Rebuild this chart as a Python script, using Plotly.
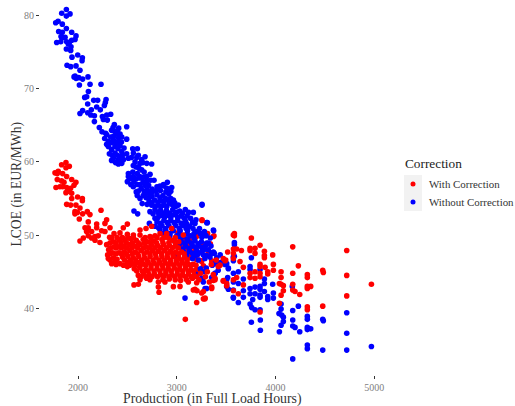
import plotly.graph_objects as go

series_names = ["With Correction", "Without Correction"]
x_ticks = [2000, 3000, 4000, 5000]
y_ticks = [40, 50, 60, 70, 80]

blue_points = [
(1882,80.8),(1835,80.3),(1919,80.2),(1882,79.9),(1774,79.0),(1798,79.2),(1841,78.8),(1882,78.2),(1804,77.8),(1936,77.7),
(1841,77.7),(1980,77.2),(1828,77.1),(1869,77.0),(1838,76.9),(1970,76.7),(1936,76.6),(1784,76.3),(1825,76.4),(1885,76.4),
(1912,76.3),(1902,76.1),(1929,75.7),(1882,75.4),(1926,75.2),(1997,74.6),(1939,74.3),(2044,74.2),(2041,73.8),(1889,73.2),
(1926,73.0),(1980,73.1),(2020,72.5),(1970,71.7),(1980,71.4),(1960,71.6),(2101,71.6),(2007,71.5),(2047,71.3),(2233,70.6),
(2122,70.6),(2014,70.5),(2105,69.6),(2088,68.9),(2068,68.8),(2159,68.4),(2199,68.4),(2284,68.5),(2277,68.1),(2098,67.9),
(2267,67.7),(2189,67.5),(2226,67.1),(2047,67.0),(2020,66.6),(2135,67.1),(2098,66.7),(2129,66.4),(2166,66.3),(2331,66.5),
(2291,66.4),(2247,66.2),(2257,65.8),(2297,65.7),(2166,65.5),(2216,64.7),(2368,65.1),(2493,64.8),(2355,64.7),(2412,64.6),
(2243,64.1),(2375,64.1),(2392,63.9),(2426,63.8),(2291,63.7),(2331,63.4),(2443,63.4),(2493,63.1),(2307,62.8),(2358,63.0),
(2409,62.8),(2307,62.1),(2375,62.1),(2426,62.2),(2466,61.9),(2554,61.8),(2601,61.8),(2340,61.7),(2318,61.1),(2375,61.2),
(2443,61.4),(2493,61.1),(2561,61.2),(2611,60.9),(2679,60.7),(2358,60.5),(2409,60.3),(2460,60.3),(2510,60.5),(2645,60.3),
(2340,60.2),(2409,59.7),(2443,59.8),(2578,60.0),(2628,59.8),(2696,59.8),(2746,59.7),(2588,59.3),(2510,58.4),(2645,58.9),
(2601,58.4),(2730,58.3),(2510,58.0),(2696,58.0),(2500,57.3),(2567,57.3),(2628,57.8),(2770,57.5),(2600,56.9),(2660,57.3),
(2715,56.8),(2800,56.6),(2865,56.9),(2905,57.2),(2949,56.5),(2900,56.4),(2560,56.6),(2640,56.4),(2590,55.9),(2700,56.2),
(2760,56.0),(2835,56.1),(2628,55.0),(2696,55.7),(2660,55.4),(2750,55.3),(2800,55.5),(2860,55.4),(2920,55.6),(2966,54.8),
(2720,54.7),(2775,54.8),(2840,54.7),(2900,54.9),(3016,54.1),(3256,54.1),(2650,54.3),(2745,54.1),(2810,54.1),(2870,54.1),
(2950,54.2),(3087,53.5),(3168,53.1),(2567,53.3),(2604,52.9),(2729,53.2),(2780,53.5),(2835,53.4),(2895,53.4),(2960,53.5),
(3030,53.3),(2780,52.3),(2840,52.7),(2905,52.7),(2975,52.8),(3045,52.6),(3105,52.6),(2723,51.6),(2800,51.8),(2870,52.0),
(2940,52.0),(3010,52.0),(3090,51.9),(3195,52.1),(3185,51.6),(3304,51.7),(2780,51.2),(2850,51.3),(2920,51.3),(2990,51.3),
(3060,51.3),(3130,51.2),(3101,51.5),(2831,50.7),(2890,50.6),(2932,50.2),(2965,50.6),(3035,50.6),(3110,50.6),(3202,50.5),
(3240,50.2),(3371,50.7),(3297,49.9),(3000,49.9),(3065,49.8),(3140,49.9),(2975,49.2),(3045,49.1),(3115,49.2),(3185,49.2),
(3250,49.1),(3320,48.9),(3347,48.5),(3253,48.3),(3160,48.5),(3090,48.5),(3020,48.4),(3200,47.9),(3371,47.7),(3320,48.0),
(3270,47.3),(3337,47.0),(3130,47.8),(3070,47.7),(3000,47.1),(3190,47.2),
(3256,54.2),(3310,51.7),(3374,50.6),(3263,50.2),(3287,50.0),(3584,49.0),(3584,48.7),(3756,46.9),(3584,47.1),(3574,46.5),
(3422,46.2),(3489,46.0),(3523,45.4),(3743,45.7),(3743,45.3),(3844,45.3),(3574,44.8),(3624,45.0),(3516,44.2),(3675,44.0),
(3888,44.0),(3888,43.4),(3388,44.8),(3354,44.2),(3263,44.1),(3574,43.6),(3624,43.4),(3506,43.0),(3523,42.6),(3287,42.7),
(3972,43.3),(4171,43.0),(3743,42.7),(3793,42.9),(3844,43.0),(3844,42.6),(3675,42.4),(3743,42.0),(3793,42.0),(3888,42.3),
(3979,42.1),(3844,41.8),(3922,41.6),(3922,41.2),(3979,41.4),(3574,41.4),(3675,41.5),(3844,41.5),(3770,41.2),(3624,40.8),
(3743,40.6),(4057,40.6),(4232,40.3),(3759,40.1),(3793,39.8),(3844,39.8),(4057,39.9),(4175,39.7),(4722,39.4),(4036,39.3),
(4063,39.1),(4080,38.8),(4323,38.9),(4323,38.5),(4479,38.5),(4485,38.3),(4175,38.4),(4080,38.2),(3847,38.4),(3756,38.1),
(4057,37.7),(4175,37.6),(4198,37.4),(4323,37.4),(4357,37.2),(4323,37.1),(3847,37.0),(4040,36.8),(4246,36.8),(4722,36.6),
(4323,35.0),(4323,34.5),(4479,34.3),(4722,34.3),(4972,34.8),(4175,33.1),(3084,41.4),
(3215,47.4),(3160,46.8),(3405,46.9),(3440,47.3),(3450,46.3),(3300,45.5),(3360,45.9),(3240,45.4),(3420,45.2),(3195,44.6),
(2280,63.9),(2340,64.3),(2400,64.2),(2270,63.2),(2360,63.5),(2410,63.3),(2340,62.6),(2385,62.5),(2440,62.7),(2290,62.4),
(2405,61.8),(2450,60.9),(2345,60.9),(2400,60.9),(2430,60.7),(2380,59.9),(2540,60.6),(2595,60.6),(2655,59.9),(2610,59.3),
(2560,59.5),(2555,58.6),(2620,59.1),(2670,58.6),(2560,58.0),(2625,58.0),(2660,57.9),(2530,57.7),(2590,57.7),(2735,57.5),
(2700,57.4),(2630,56.9),(2535,56.9),(2680,56.8),(2750,56.3),(2610,56.0),(2670,56.0),(2730,55.9),(2795,56.1),(2870,56.7),
(2830,56.7),(2890,55.9),(2940,56.0),(2600,55.4),(2690,55.1),(2730,55.3),(2830,55.1),(2885,55.0),(2940,55.0),(2750,54.4),
(2700,54.2),(2810,54.5),(2870,54.5),(2925,54.4),(2980,54.4),(2780,53.9),(2840,53.9),(2900,53.9),(2990,53.9),(2810,53.1),
(2870,53.0),(2930,53.0),(3000,53.1),(3060,53.0),(3120,53.1),(2760,52.9),(2810,52.4),(2875,52.4),(2940,52.4),(3010,52.4),
(3075,52.3),(3140,52.3),(2835,51.6),(2905,51.7),(2975,51.7),(3045,51.6),(3110,51.2),(3160,51.7),(2815,51.0),(2885,50.9),
(2955,50.9),(3025,50.9),(3095,50.9),(3165,50.9),(3230,50.9),(2860,50.2),(2930,49.9),(3030,50.2),(3105,50.2),(3175,50.2),
(3280,50.5),(3040,49.5),(3105,49.5),(3175,49.6),(3255,49.7),(3340,49.6),(3025,48.8),(3080,48.9),(3150,48.9),(3220,48.8),
(3290,48.5),(3060,48.1),(3125,48.2),(3195,48.3),(3275,48.0),(3100,47.3),(3160,47.5),(3250,47.7),(3300,47.2),(3350,47.5),
(3202,48.4),(3303,48.9),(3381,47.5),(3219,46.6),(3388,46.1),(3286,46.8),(3202,44.6),(3269,45.0),(3388,44.8),(3371,44.1),
(3252,44.1),(3269,43.6),(3303,42.7),(3438,46.1),(3506,46.1),(3573,47.0),(3523,45.5),(3573,42.5),(3573,41.5),(3506,43.9),
]

red_under_points = [
(3256,52.1),(3304,50.2),(3371,49.8),(3200,49.8),(3130,49.3),(3010,50.3),(3270,48.7),(3090,49.4),(3180,48.3),(3340,48.8),
(3313,50.2),(3377,49.9),(3252,46.4),(3354,46.5),
(3105,48.6),(3045,48.4),(3105,47.9),(3165,47.7),(3135,46.9),(3195,46.7),(3250,46.5),(3165,46.0),(3200,45.3),(3270,45.8),
(3320,47.5),(3130,48.25),(3075,48.25),(3135,47.45),(3190,47.45),(3225,46.6),(3195,45.9),(3225,45.1),(3105,48.95),(3040,49.65),
]

red_points = [
(1834,59.6),(1878,59.9),(1912,59.4),(1878,59.2),(1767,58.5),(1800,58.7),(1790,58.4),(1844,58.4),(1885,58.0),(1936,57.6),
(1790,57.6),(1834,57.4),(1858,57.2),(1979,57.2),(1777,56.5),(1844,56.6),(1885,56.5),(1925,56.4),(1959,56.8),(1817,56.6),
(1878,55.8),(1936,55.7),(1902,56.0),(1936,55.0),(1996,55.2),(2044,55.0),(2044,54.7),(1885,54.2),(1925,54.1),(1979,54.1),
(2020,53.7),(2233,53.4),(1969,53.2),(1993,53.1),(2047,52.9),(1969,52.9),(2094,53.2),(2121,52.8),(2013,52.2),(2104,51.8),
(2290,52.1),(2273,51.6),(2189,51.5),(2071,51.0),(2104,51.0),(2138,50.5),(2189,51.0),(2239,50.6),(2324,51.0),(2273,50.5),
(2087,50.5),(2172,49.8),(2104,49.9),(2138,49.6),(2054,49.6),(2020,49.2),(2172,49.3),(2222,49.0),(2290,48.7),(2358,49.1),
(2205,49.9),(2320,49.7),
(2500,51.5),(2459,51.0),(2425,50.3),(2365,50.2),(2628,50.7),(2689,50.9),(2746,51.2),(2780,49.9),(2729,49.8),(2561,50.0),
(2500,50.1),(2628,50.0),(2831,50.2),(2898,50.2),(2949,50.9),(2915,49.6),(3067,50.0),(3256,52.0),
(2310,48.0),(2365,48.4),(2420,49.4),(2475,49.3),(2530,49.5),(2590,49.3),(2660,49.4),(2705,49.1),(2765,49.2),(2850,49.4),
(2960,49.3),(3020,49.1),(2300,47.3),(2350,47.6),(2410,48.4),(2460,48.5),(2520,48.7),(2575,48.5),(2630,48.7),(2690,48.4),
(2745,48.6),(2805,48.6),(2865,48.7),(2925,48.6),(2985,48.5),(2307,46.8),(2360,46.9),(2415,47.6),
(2470,47.7),(2525,47.9),(2580,47.7),(2640,47.9),(2700,47.7),(2755,47.9),(2815,47.8),(2875,47.9),(2935,47.8),(2990,47.7),
(3050,47.7),(2341,46.1),(2395,46.7),(2425,46.1),(2450,47.0),(2505,47.1),(2560,46.9),(2615,47.1),
(2675,46.9),(2730,47.1),(2790,47.0),(2850,47.1),(2905,47.0),(2965,47.1),(3020,46.9),(3080,47.0),
(2500,46.3),(2550,46.1),(2600,46.3),(2655,46.1),(2710,46.3),(2770,46.2),(2825,46.3),(2885,46.2),(2940,46.3),
(3000,46.2),(3055,46.3),(3110,46.1),(2500,45.7),(2570,45.4),(2625,45.6),(2685,45.3),(2740,45.5),(2800,45.4),
(2860,45.5),(2915,45.4),(2975,45.5),(3030,45.4),(3090,45.5),(3145,45.3),(2611,44.5),(2665,44.8),(2720,44.6),
(2775,44.7),(2835,44.6),(2890,44.8),(2950,44.6),(3005,44.7),(3060,44.6),(3120,44.7),(3175,44.5),(2628,43.9),(2567,43.2),
(2611,43.3),(2729,43.9),(2695,44.1),(2814,43.6),(2860,43.9),(2881,43.6),(2925,44.0),(2985,43.9),(3040,43.8),(3100,43.9),
(3160,44.1),(2814,42.9),(2821,42.2),(2966,42.96),(3033,43.0),(3118,43.6),(3202,43.5),(3185,42.6),(3205,42.4),(3270,42.3),
(3354,42.9),(3287,41.4),(3253,42.1),(3270,41.3),
(3400,46.6),(3350,46.0),(3310,45.0),(3240,44.8),(3370,44.6),(3290,44.3),(3225,43.9),(3330,43.6),
(3584,50.2),(3584,49.9),(3756,49.6),(3844,48.6),(4175,48.4),(4722,47.9),(3574,48.1),(3607,48.1),(3655,47.9),(3516,47.7),
(3743,48.2),(3793,48.2),(3743,47.9),(3793,47.5),(3888,47.8),(3888,47.2),(3888,46.9),(3972,47.3),(3574,47.5),(3641,46.4),
(3574,46.8),(3472,46.8),(3489,46.5),(3675,45.6),(3439,45.9),(3979,46.0),(3979,45.2),(3844,46.0),(3844,45.7),(4232,45.8),
(3895,45.6),(3922,45.0),(3743,44.8),(3793,45.0),(3844,44.8),(4057,45.0),(3922,44.7),(4175,44.8),(4323,44.6),(4323,44.2),
(4479,45.2),(4485,44.9),(4722,44.5),(4057,44.2),(3743,44.2),(3793,44.1),(3844,44.3),(3607,44.2),(3574,43.9),(3472,43.8),
(3388,44.1),(3371,43.8),(3506,43.4),(3675,43.2),(4040,43.4),(4080,43.1),(4057,43.3),(4175,43.3),(4323,43.0),(4357,43.0),
(4323,42.7),(4972,43.3),(4080,42.4),(4175,42.5),(4198,42.3),(3354,42.7),(3574,42.4),(3624,42.0),(4057,41.8),(4246,41.9),
(4722,41.7),(3844,39.5),(4040,40.7),(4323,40.2),(4323,39.8),(4479,40.3),
(3087,38.5),(3202,40.8),(3286,41.3),(3168,42.5),(3421,45.7),(3496,46.6),(3388,43.9),(3472,43.7),(3506,43.1),(3573,50.0),
(2340,49.65),(2395,49.65),(2450,49.65),(2505,49.65),(2560,49.65),(2680,49.65),(2740,49.65),(2800,49.65),(2870,49.65),(2985,49.65),
(2325,48.95),(2385,48.95),(2435,48.95),(2490,48.95),(2550,48.95),(2610,48.95),(2675,48.95),(2735,48.95),(2795,48.95),(2860,48.95),(2920,48.95),(2985,48.95),
(2330,48.25),(2385,48.25),(2440,48.25),(2490,48.25),(2545,48.25),(2605,48.25),(2665,48.25),(2720,48.25),(2780,48.25),(2835,48.25),(2895,48.25),(2955,48.25),(3015,48.25),
(2325,47.45),(2385,47.45),(2440,47.45),(2490,47.45),(2550,47.45),(2605,47.45),(2670,47.45),(2730,47.45),(2785,47.45),(2845,47.45),(2905,47.45),(2960,47.45),(3020,47.45),(3075,47.45),
(2325,46.6),(2375,46.6),(2470,46.6),(2530,46.6),(2585,46.6),(2645,46.6),(2700,46.6),(2760,46.6),(2820,46.6),(2875,46.6),(2935,46.6),(2995,46.6),(3050,46.6),(3105,46.6),
(2385,46.0),(2460,45.9),(2525,45.9),(2575,45.9),(2630,45.9),(2685,45.9),(2740,45.9),(2800,45.9),(2855,45.9),(2915,45.9),(2970,45.9),(3030,45.9),(3085,45.9),(3140,45.9),
(2595,45.1),(2650,45.1),(2710,45.1),(2770,45.1),(2830,45.1),(2890,45.1),(2945,45.1),(3005,45.1),(3060,45.1),(3115,45.1),(3170,45.1),
(2640,44.3),(2690,44.3),(2750,44.3),(2805,44.3),(2865,44.3),(2920,44.3),(2980,44.3),(3035,44.3),(3090,44.3),(3145,44.3),(3200,44.3),
]

red_x, red_y = zip(*red_points)
under_x, under_y = zip(*red_under_points)
blue_x, blue_y = zip(*blue_points)

# Figure geometry, in pixels of the 515x406 picture
FIG_W, FIG_H = 515, 406
L, R, T, B = 40, 127, 0, 31
px = lambda v: (v - L) / (FIG_W - L - R)
py = lambda v: 1 - (v - T) / (FIG_H - T - B)

marker_size = 5.6
serif = "Liberation Serif"
fig = go.Figure()
fig.add_trace(go.Scatter(x=under_x, y=under_y, mode="markers", showlegend=False,
                         marker=dict(color="#ff0000", size=marker_size)))
fig.add_trace(go.Scatter(x=blue_x, y=blue_y, mode="markers", name=series_names[1], showlegend=False,
                         marker=dict(color="#0000ff", size=marker_size)))
fig.add_trace(go.Scatter(x=red_x, y=red_y, mode="markers", name=series_names[0], showlegend=False,
                         marker=dict(color="#ff0000", size=marker_size)))

axis_common = dict(showgrid=False, zeroline=False, showline=False, ticks="outside", ticklen=3, automargin=False,
                   tickwidth=1, tickcolor="#333333", tickfont=dict(family=serif, size=10, color="#808080"))
fig.update_xaxes(range=[1615, 5140], tickvals=x_ticks, **axis_common)
fig.update_yaxes(range=[30.9, 82.1], tickvals=y_ticks, **axis_common)

legend_texts = [("Correction", 404, 163, 13.3, "#222222"),
                (series_names[0], 428, 184, 10.9, "#333333"),
                (series_names[1], 428, 202, 10.9, "#333333")]
annotations = [dict(text=t, xref="paper", yref="paper", x=px(x), y=py(y), xanchor="left", yanchor="middle",
                    showarrow=False, xshift=-1, font=dict(family=serif, size=s, color=c))
               for t, x, y, s, c in legend_texts]
annotations += [
    dict(text="Production (in Full Load Hours)", xref="paper", yref="paper", x=px(212.5), y=py(398.8),
         xanchor="center", yanchor="middle", showarrow=False, font=dict(family=serif, size=13.8, color="#333333")),
    dict(text="LCOE (in EUR/MWh)", xref="paper", yref="paper", x=px(16), y=py(184.5), textangle=-90,
         xanchor="center", yanchor="middle", showarrow=False, font=dict(family=serif, size=13.6, color="#333333")),
]
shapes = [dict(type="rect", xref="paper", yref="paper", layer="below", line_width=0,
               fillcolor="#f2f2f2", x0=px(404), x1=px(422), y0=py(211), y1=py(175))]
for yc, col in [(184, "#ff0000"), (202, "#0000ff")]:
    shapes.append(dict(type="circle", xref="paper", yref="paper", line_width=0, fillcolor=col,
                       x0=px(410.5), x1=px(415.5), y0=py(yc + 2.5), y1=py(yc - 2.5)))

fig.update_layout(
    width=FIG_W, height=FIG_H, margin=dict(l=L, r=R, t=T, b=B),
    paper_bgcolor="white", plot_bgcolor="white", font=dict(family=serif),
    showlegend=False, annotations=annotations, shapes=shapes,
)
fig.write_html("out.html", config={"displayModeBar": False},
               post_script="document.body.style.margin='0';")
